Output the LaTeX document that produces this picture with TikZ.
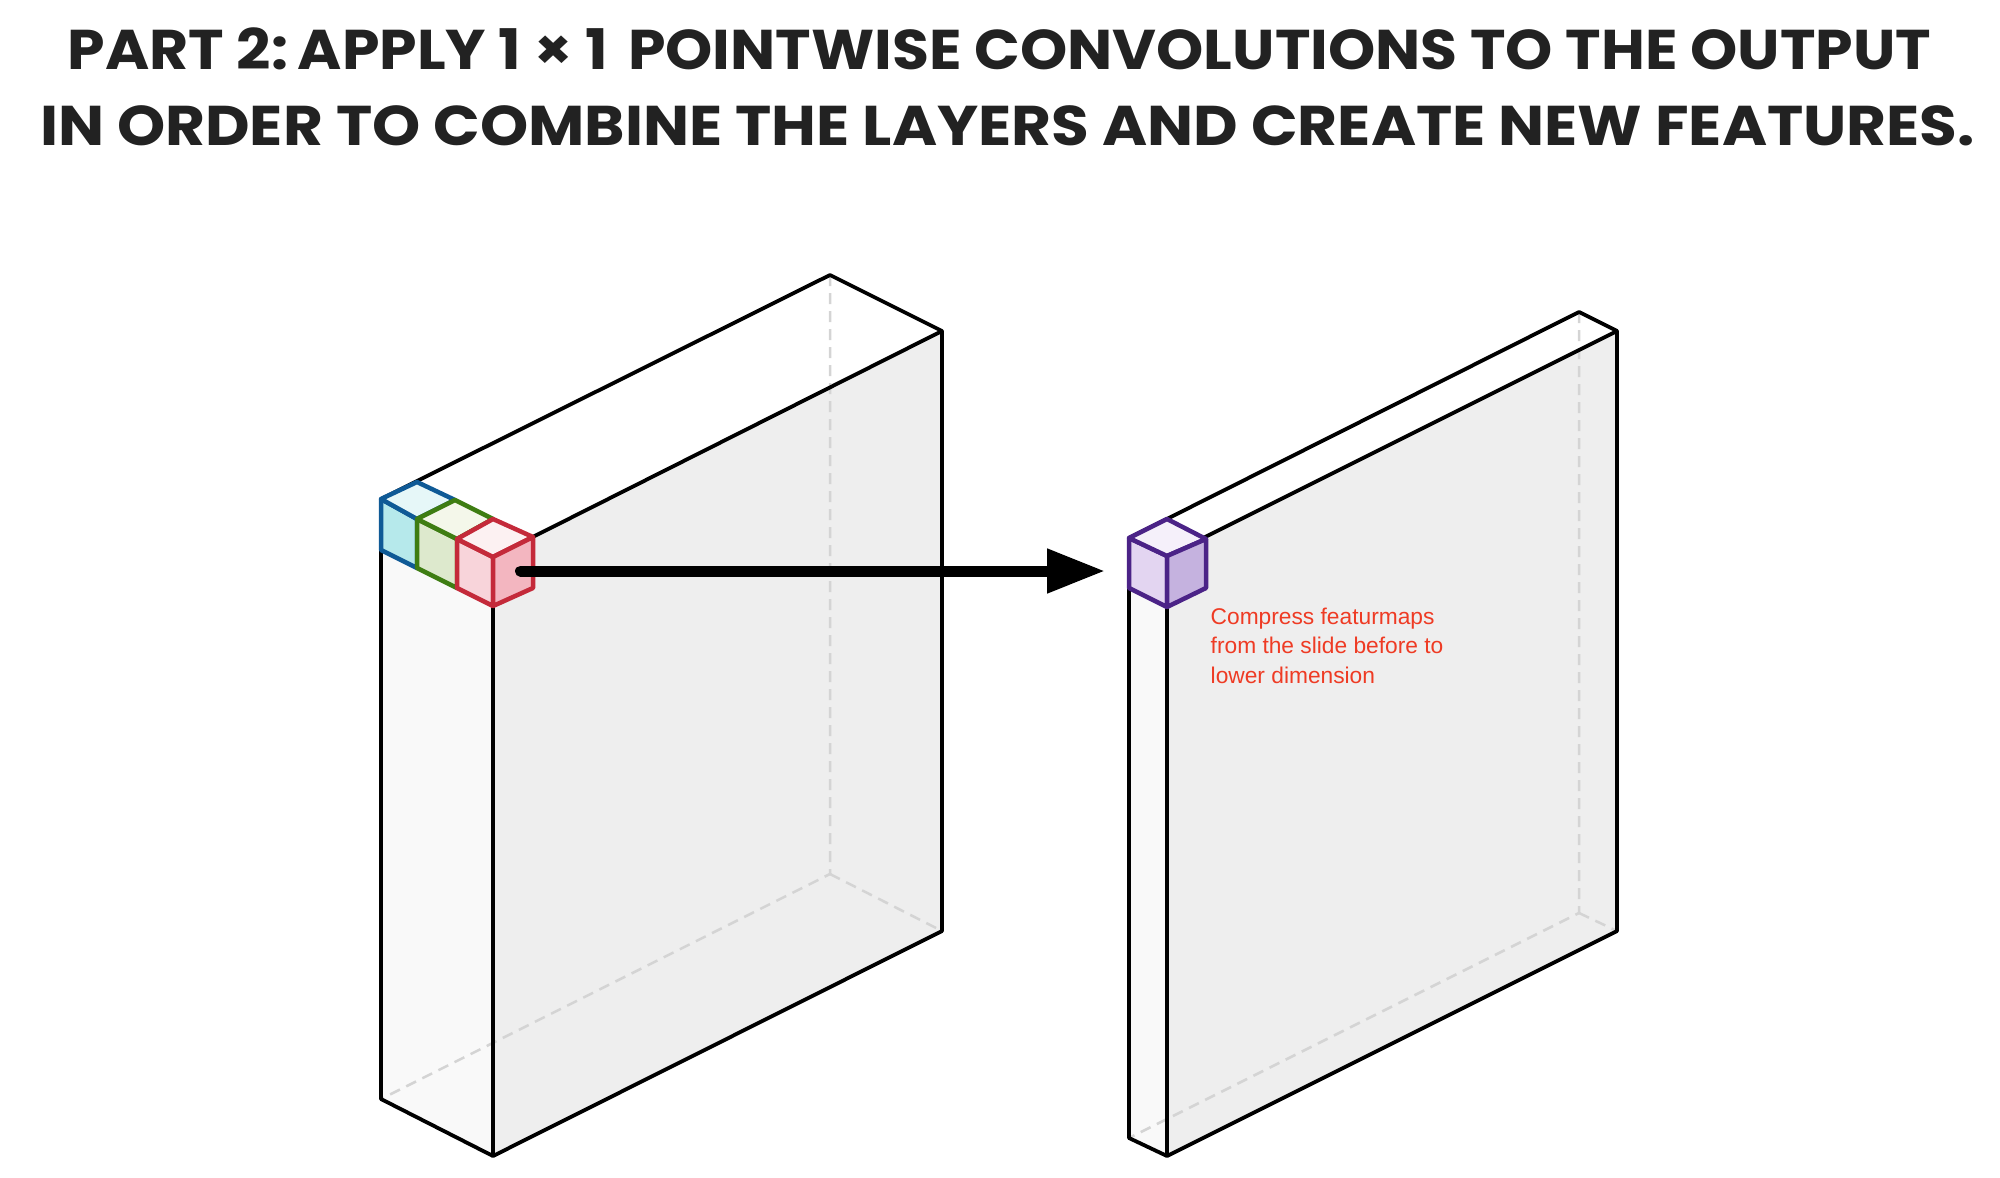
\documentclass[tikz,border=0pt]{standalone}
\usepackage{fontspec}
\setmainfont{Liberation Sans}
\newfontfamily\titlefont{Poppins}[UprightFont=* Bold]
\usetikzlibrary{arrows.meta}
\definecolor{titleink}{HTML}{222222}
\definecolor{noteink}{HTML}{EE3B24}
\definecolor{faceleft}{HTML}{F9F9F9}
\definecolor{faceright}{HTML}{EEEEEE}
\definecolor{hiddenline}{HTML}{D4D4D4}
\definecolor{bluestroke}{HTML}{0F5A96}
\definecolor{bluetop}{HTML}{E6F7F8}
\definecolor{blueleft}{HTML}{B6E9EB}
\definecolor{greenstroke}{HTML}{3E7D12}
\definecolor{greentop}{HTML}{F4F7EA}
\definecolor{greenleft}{HTML}{DDE9CD}
\definecolor{redstroke}{HTML}{C42A3A}
\definecolor{redtop}{HTML}{FCF1F2}
\definecolor{redleft}{HTML}{F8D4DA}
\definecolor{redright}{HTML}{F3B6C0}
\definecolor{purplestroke}{HTML}{4B2387}
\definecolor{purpletop}{HTML}{F5F0FA}
\definecolor{purpleleft}{HTML}{E3D5F1}
\definecolor{purpleright}{HTML}{C5B2DF}
\begin{document}
\begin{tikzpicture}[x=1pt, y=-1pt, line join=round]
        \tikzstyle{title}=[inner sep=0pt, anchor=base, text=titleink, font=\titlefont\fontsize{56}{56}\selectfont]
        \tikzstyle{edge}=[draw=black, line width=3.8pt]
        \tikzstyle{hidden}=[draw=hiddenline, line width=2.5pt, dash pattern=on 11pt off 7pt]
        \tikzstyle{cell}=[line width=4.5pt]
        \useasboundingbox (0,0) rectangle (2000,1178);
        \node [title] (line one) at (999.5,69) {\scalebox{1.0735}[1]{PART 2:\hspace{-7pt} APPLY 1 × 1\hspace{7pt} POINTWISE CONVOLUTIONS TO THE OUTPUT}};
        \node [title] (line two) at (1007.5,145) {\scalebox{1.095}[1]{IN ORDER TO COMBINE THE LAYERS AND CREATE NEW FEATURES.}};
        \begin{scope}[yshift=-1pt]
        % both blocks, same corners
        \foreach \lx/\fx/\bx/\rx/\lty/\bty/\fty/\rty/\lby/\bby/\fby/\rby in {381/493/830/942/498/274/556/330/1098/873/1155/930, 1129/1167/1579/1617/537/311/555/330/1137/912/1155/930} {
            \fill [faceleft] (\lx,\lty) -- (\fx,\fty) -- (\fx,\fby) -- (\lx,\lby) -- cycle;
            \fill [faceright] (\fx,\fty) -- (\rx,\rty) -- (\rx,\rby) -- (\fx,\fby) -- cycle;
            \draw [hidden] (\bx,\bty) -- (\bx,\bby) -- (\lx,\lby);
            \draw [hidden] (\bx,\bby) -- (\rx,\rby);
            \draw [edge] (\lx,\lty) -- (\bx,\bty) -- (\rx,\rty) -- (\rx,\rby) -- (\fx,\fby) -- (\lx,\lby) -- cycle;
            \draw [edge] (\lx,\lty) -- (\fx,\fty) -- (\rx,\rty);
            \draw [edge] (\fx,\fty) -- (\fx,\fby);
        }
        % blue
        \draw [cell, draw=bluestroke, fill=blueleft] (381,498) -- (417,518) -- (417,567) -- (381,549) -- cycle;
        \draw [cell, draw=bluestroke, fill=bluetop] (381,498) -- (417,481) -- (455,499) -- (417,518) -- cycle;
        % green
        \draw [cell, draw=greenstroke, fill=greenleft] (417,518) -- (457,538) -- (457,587) -- (417,567) -- cycle;
        \draw [cell, draw=greenstroke, fill=greentop] (417,518) -- (455,499) -- (493,518) -- (457,538) -- cycle;
        % red
        \draw [cell, draw=redstroke, fill=redleft] (457,538) -- (493,556) -- (493,605) -- (457,587) -- cycle;
        \draw [cell, draw=redstroke, fill=redtop] (457,538) -- (493,518) -- (533,536) -- (493,556) -- cycle;
        \draw [cell, draw=redstroke, fill=redright] (493,556) -- (533,536) -- (533,587) -- (493,605) -- cycle;
        % purple
        \draw [cell, draw=purplestroke, fill=purpleleft] (1129,537) -- (1167,555) -- (1167,606) -- (1129,587) -- cycle;
        \draw [cell, draw=purplestroke, fill=purpletop] (1129,537) -- (1167,518) -- (1206,538) -- (1167,555) -- cycle;
        \draw [cell, draw=purplestroke, fill=purpleright] (1167,555) -- (1206,538) -- (1206,587) -- (1167,606) -- cycle;
        \coordinate (from cell) at (520.5,570);
        \coordinate (to cell) at (1105,570);
        \draw [line width=11pt, line cap=round, -{Triangle[length=58pt, width=42pt]}] (from cell) -- (to cell);
        \end{scope}
        \node [inner sep=0pt, anchor=base west, align=left, text=noteink, font=\fontsize{22.75}{29.5}\selectfont] (note) at (1210.5,683) {Compress featurmaps\\from the slide before to\\lower dimension};
    \end{tikzpicture}
\end{document}
